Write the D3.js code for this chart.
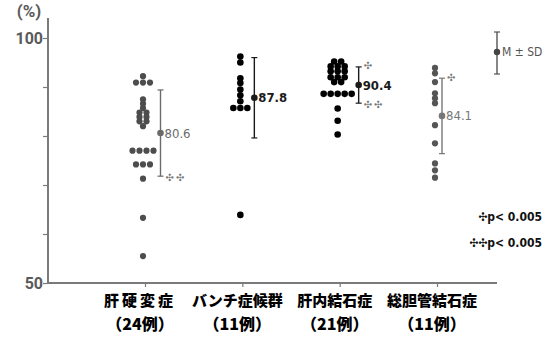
<!DOCTYPE html>
<html>
<head>
<meta charset="utf-8">
<script src="https://cdn.jsdelivr.net/npm/d3@7"></script>
<style>
  html, body { margin: 0; padding: 0; background: #fff; }
  svg { display: block; }
</style>
</head>
<body>
<svg id="chart" width="553" height="338"></svg>
<script>
// Groups and number of cases
const categories = ["肝硬変症", "バンチ症候群", "肝内結石症", "総胆管結石症"];
const caseCounts = [24, 11, 21, 11];

// Individual values (%) per group
const cirrhosis = [92.2, 90.9, 90.9, 90.9, 87.5, 86.6, 85.7, 84.8, 84.8, 83.9, 83.9, 83.0, 83.0, 82.0,
                   77.0, 77.0, 77.0, 77.0, 74.2, 74.2, 74.2, 71.3, 63.3, 55.5];
const banti = [96.2, 95.0, 91.8, 90.8, 89.5, 88.3, 87.1, 85.7, 85.7, 85.7, 63.9];
const hepatolithiasis = [95.2, 95.2, 94.2, 94.2, 94.2, 93.2, 93.2, 93.2, 92.0, 92.0, 92.0, 91.0, 91.0,
                         88.6, 88.6, 88.6, 88.6, 88.6, 85.6, 83.1, 80.3];
const choledocholithiasis = [93.9, 92.8, 91.0, 88.7, 87.7, 86.7, 82.2, 78.5, 74.4, 73.0, 71.5];

// Mean and SD per group
const means = [80.6, 87.8, 90.4, 84.1];
const sds = [8.8, 8.2, 3.7, 7.7];

// Significance marks above / below each SD bar
const marksTop = ["", "", "✣", "✣"];
const marksBottom = ["✣✣", "", "✣✣", ""];

// Axis ticks
const yTicks = [50, 60, 70, 80, 90, 100];
const yTickLabels = [50, 100];

// Legend texts
const legendSig = ["✣p< 0.005", "✣✣p< 0.005"];
const legendMSD = "M ± SD";

const groups = [cirrhosis, banti, hepatolithiasis, choledocholithiasis];
const inkColors = ["#4d4d4d", "#000", "#000", "#555"];
const barColors = ["#6a6a6a", "#1a1a1a", "#1a1a1a", "#777"];

const svg = d3.select("#chart");
const axisColor = "#7a7a7a";
const labelGray = "#5a5a5a";

const y = d3.scaleLinear().domain([50, 100]).range([283, 38]);
const x = d3.scalePoint().domain(categories).range([145, 437]);

// Y axis
const yAxis = d3.axisLeft(y).tickValues(yTicks).tickSize(5).tickFormat("");
const gy = svg.append("g").attr("transform", "translate(48,0)").call(yAxis);
gy.select(".domain").remove();
gy.selectAll(".tick line").attr("stroke", axisColor).attr("stroke-width", 1.2);
svg.append("line").attr("x1", 48).attr("x2", 48).attr("y1", 18).attr("y2", 283)
  .attr("stroke", axisColor).attr("stroke-width", 2);

svg.selectAll("text.ylab").data(yTickLabels).join("text")
  .attr("class", "ylab")
  .attr("x", 43).attr("y", d => y(d))
  .attr("text-anchor", "end").attr("dominant-baseline", "central")
  .attr("font-family", "Roboto, 'DejaVu Sans', sans-serif")
  .attr("font-weight", 700).attr("font-size", 16).attr("fill", labelGray)
  .text(d => d);

svg.append("text").attr("x", 29).attr("y", 17)
  .attr("text-anchor", "middle")
  .attr("font-family", "Roboto, 'DejaVu Sans', sans-serif")
  .attr("font-weight", 700).attr("font-size", 17).attr("fill", labelGray)
  .text("(%)");

// X axis
svg.append("line").attr("x1", 48).attr("x2", 497).attr("y1", 283).attr("y2", 283)
  .attr("stroke", axisColor).attr("stroke-width", 2);
const xAxis = d3.axisBottom(x).tickSize(4).tickFormat("");
const gx = svg.append("g").attr("transform", "translate(0,283)").call(xAxis);
gx.select(".domain").remove();
gx.selectAll(".tick line").attr("stroke", axisColor).attr("stroke-width", 1.2);

// Category labels (two lines)
const catG = svg.append("g").attr("font-family", "'Noto Sans CJK JP', sans-serif")
  .attr("font-weight", 900).attr("fill", "#000").attr("text-anchor", "middle");
catG.selectAll("text.cat").data(categories).join("text")
  .attr("class", "cat")
  .attr("x", d => x(d) - 5).attr("y", 306)
  .attr("font-size", 15)
  .attr("letter-spacing", (d, i) => i === 0 ? 3 : 0)
  .text(d => d);
catG.selectAll("text.cnt").data(categories).join("text")
  .attr("class", "cnt")
  .attr("x", d => x(d) - 5).attr("y", 330)
  .attr("font-size", 16)
  .text((d, i) => "（" + caseCounts[i] + "例）");

// Dots: equal values share a row, placed side by side
const dotR = 3;
const dotStep = 7;
const barInfo = [];
groups.forEach((vals, gi) => {
  const cx = x(categories[gi]) - 2;
  const rows = d3.groups(vals, v => v);
  const pts = [];
  rows.forEach(([v, arr]) => {
    arr.forEach((_, k) => {
      pts.push({ v, dx: (k - (arr.length - 1) / 2) * dotStep });
    });
  });
  svg.append("g").selectAll("circle").data(pts).join("circle")
    .attr("cx", d => cx + d.dx)
    .attr("cy", d => y(d.v))
    .attr("r", gi === 1 || gi === 2 ? 3.3 : 3.1)
    .attr("fill", inkColors[gi]);
  const right = cx + d3.max(pts, d => d.dx) + dotR;
  barInfo.push(right + 4);
});

// Mean ± SD bars
groups.forEach((_, gi) => {
  const bx = barInfo[gi];
  const top = y(means[gi] + sds[gi]);
  const bot = y(means[gi] - sds[gi]);
  const col = barColors[gi];
  const g = svg.append("g");
  g.append("line").attr("x1", bx).attr("x2", bx).attr("y1", top).attr("y2", bot)
    .attr("stroke", col).attr("stroke-width", 1.4);
  [top, bot].forEach(yy => g.append("line")
    .attr("x1", bx - 3).attr("x2", bx + 3).attr("y1", yy).attr("y2", yy)
    .attr("stroke", col).attr("stroke-width", 1.2));
  g.append("circle").attr("cx", bx).attr("cy", y(means[gi])).attr("r", 3.3).attr("fill", col);
  g.append("text")
    .attr("x", bx + 4).attr("y", y(means[gi]))
    .attr("dominant-baseline", "central")
    .attr("font-family", "'DejaVu Sans Condensed', 'Liberation Sans Narrow', sans-serif")
    .attr("font-stretch", "condensed")
    .attr("font-weight", gi === 1 || gi === 2 ? 700 : 400)
    .attr("font-size", 13).attr("fill", col)
    .text(means[gi].toFixed(1));
  const markAttrs = sel => sel
    .attr("font-family", "'DejaVu Sans', sans-serif")
    .attr("font-size", 10).attr("fill", "#777")
    .attr("dominant-baseline", "central");
  if (marksTop[gi]) {
    g.append("text").attr("x", bx + 5).attr("y", top - 1).call(markAttrs).text(marksTop[gi]);
  }
  if (marksBottom[gi]) {
    g.append("text").attr("x", bx + 5).attr("y", bot + 1).call(markAttrs)
      .attr("letter-spacing", 2).text(marksBottom[gi]);
  }
});

// M ± SD legend
const lg = svg.append("g");
const lx = 497, ly = 52;
lg.append("line").attr("x1", lx).attr("x2", lx).attr("y1", 32).attr("y2", 74)
  .attr("stroke", "#555").attr("stroke-width", 1.4);
[32, 74].forEach(yy => lg.append("line").attr("x1", lx - 3).attr("x2", lx + 3)
  .attr("y1", yy).attr("y2", yy).attr("stroke", "#555").attr("stroke-width", 1.2));
lg.append("circle").attr("cx", lx).attr("cy", ly).attr("r", 3.2).attr("fill", "#444");
lg.append("text").attr("x", lx + 5).attr("y", ly)
  .attr("dominant-baseline", "central")
  .attr("font-family", "'DejaVu Sans Condensed', 'Liberation Sans Narrow', sans-serif")
  .attr("font-stretch", "condensed")
  .attr("font-size", 12).attr("fill", "#555")
  .text(legendMSD);

// Significance legend
svg.selectAll("text.sig").data(legendSig).join("text")
  .attr("class", "sig")
  .attr("x", 542).attr("y", (d, i) => 217 + i * 26)
  .attr("text-anchor", "end").attr("dominant-baseline", "central")
  .attr("font-family", "'DejaVu Sans Condensed', 'Liberation Sans Narrow', sans-serif")
  .attr("font-stretch", "condensed")
  .attr("font-weight", 700).attr("font-size", 12).attr("fill", "#111")
  .text(d => d);
</script>
</body>
</html>
